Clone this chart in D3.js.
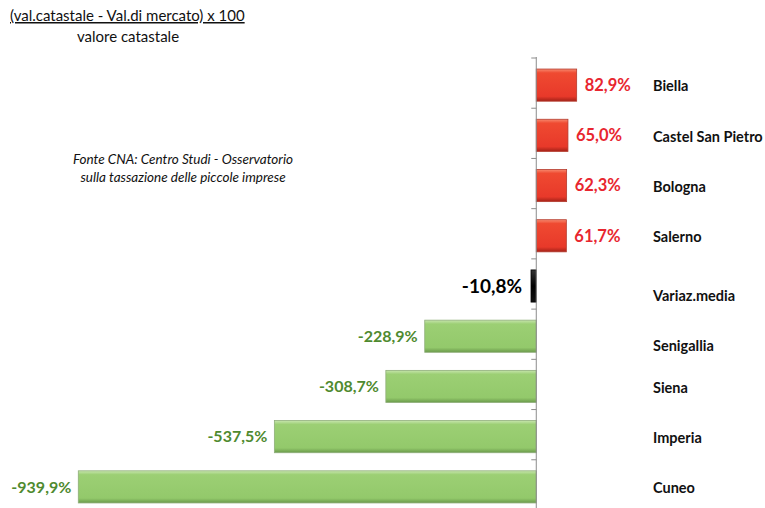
<!DOCTYPE html>
<html>
<head>
<meta charset="utf-8">
<script src="https://cdn.jsdelivr.net/npm/d3@7"></script>
<style>
  body { margin: 0; background: #fff; }
  svg { display: block; font-family: Lato, "Open Sans", sans-serif; }
</style>
</head>
<body>
<div id="chart"></div>
<script>
// categories, top to bottom
const cities = ["Biella", "Castel San Pietro", "Bologna", "Salerno", "Variaz.media",
                "Senigallia", "Siena", "Imperia", "Cuneo"];
// percentage change
const values = [82.9, 65.0, 62.3, 61.7, -10.8, -228.9, -308.7, -537.5, -939.9];
const kinds = ["pos", "pos", "pos", "pos", "avg", "neg", "neg", "neg", "neg"];

const titleLines = ["(val.catastale - Val.di mercato) x 100", "valore catastale"];
const sourceLines = ["Fonte CNA: Centro Studi - Osservatorio", "sulla tassazione delle piccole imprese"];

const width = 765, height = 508;

const svg = d3.select("#chart").append("svg")
  .attr("width", width)
  .attr("height", height);

const data = cities.map((c, i) => ({ city: c, value: values[i], kind: kinds[i] }));

const x = d3.scaleLinear().domain([-1000, 100]).range([49, 585]);
const y = d3.scaleBand().domain(cities).range([60, 512]).paddingInner(0.36).paddingOuter(0.18);

// gradients for the bevelled bars
const defs = svg.append("defs");
function grad(id, stops) {
  const g = defs.append("linearGradient").attr("id", id)
    .attr("x1", 0).attr("y1", 0).attr("x2", 0).attr("y2", 1);
  stops.forEach(s => g.append("stop").attr("offset", s[0]).attr("stop-color", s[1]));
}
grad("gPos", [[0, "#f78a6f"], [0.12, "#ef4a31"], [0.85, "#e8392a"], [1, "#a32218"]]);
grad("gNeg", [[0, "#c7e5ad"], [0.12, "#9ccf74"], [0.85, "#93c96b"], [1, "#6a9a4b"]]);
grad("gAvg", [[0, "#333"], [0.5, "#000"], [1, "#111"]]);

const fills = { pos: "url(#gPos)", neg: "url(#gNeg)", avg: "url(#gAvg)" };
const strokes = { pos: "#b43b2e", neg: "#8fae7a", avg: "#000" };
const textColor = { pos: "#e8262f", neg: "#4f8a2f", avg: "#000" };

// bars
svg.append("g").selectAll("rect")
  .data(data)
  .join("rect")
  .attr("x", d => x(Math.min(0, d.value)))
  .attr("y", d => y(d.city))
  .attr("width", d => Math.abs(x(d.value) - x(0)))
  .attr("height", y.bandwidth())
  .attr("fill", d => fills[d.kind])
  .attr("stroke", d => strokes[d.kind])
  .attr("stroke-width", 0.8);

// vertical axis at zero
const step = y.step();
const axisG = svg.append("g");
axisG.append("line")
  .attr("x1", x(0)).attr("x2", x(0))
  .attr("y1", y.range()[0] - 3).attr("y2", height)
  .attr("stroke", "#8c8c8c").attr("stroke-width", 1);
axisG.selectAll("line.tick")
  .data(d3.range(cities.length + 1))
  .join("line")
  .attr("class", "tick")
  .attr("x1", x(0) - 5).attr("x2", x(0))
  .attr("y1", i => y.range()[0] + i * step - 2)
  .attr("y2", i => y.range()[0] + i * step - 2)
  .attr("stroke", "#8c8c8c");

// value labels
const fmt = v => d3.format(".1f")(v).replace("\u2212", "-").replace(".", ",") + "%";
svg.append("g").selectAll("text")
  .data(data)
  .join("text")
  .attr("x", d => d.value >= 0 ? x(d.value) + 8 : x(d.value) - (d.kind === "avg" ? 9 : 7))
  .attr("y", d => y(d.city) + y.bandwidth() / 2)
  .attr("dy", "0.36em")
  .attr("text-anchor", d => d.value >= 0 ? "start" : "end")
  .attr("font-weight", "bold")
  .attr("font-size", d => d.kind === "avg" ? 19 : (d.kind === "pos" ? 16.5 : 16))
  .attr("fill", d => textColor[d.kind])
  .text(d => fmt(d.value));

// category names
svg.append("g").selectAll("text")
  .data(data)
  .join("text")
  .attr("x", 653)
  .attr("y", d => y(d.city) + y.bandwidth() / 2 + (d.kind === "avg" || d.city === "Senigallia" ? 10 : 1))
  .attr("dy", "0.36em")
  .attr("font-weight", "bold")
  .attr("font-size", 14.5)
  .attr("fill", "#111")
  .text(d => d.city);

// formula title
svg.append("text")
  .attr("x", 10).attr("y", 21)
  .attr("font-size", 15).attr("fill", "#111")
  .attr("text-decoration", "underline")
  .text(titleLines[0]);
svg.append("text")
  .attr("x", 128).attr("y", 42)
  .attr("text-anchor", "middle")
  .attr("font-size", 15).attr("fill", "#111")
  .text(titleLines[1]);

// source note
svg.append("g").selectAll("text")
  .data(sourceLines)
  .join("text")
  .attr("x", 183)
  .attr("y", (d, i) => 164 + i * 18)
  .attr("text-anchor", "middle")
  .attr("font-size", 13.5)
  .attr("font-style", "italic")
  .attr("fill", "#111")
  .text(d => d);
</script>
</body>
</html>
